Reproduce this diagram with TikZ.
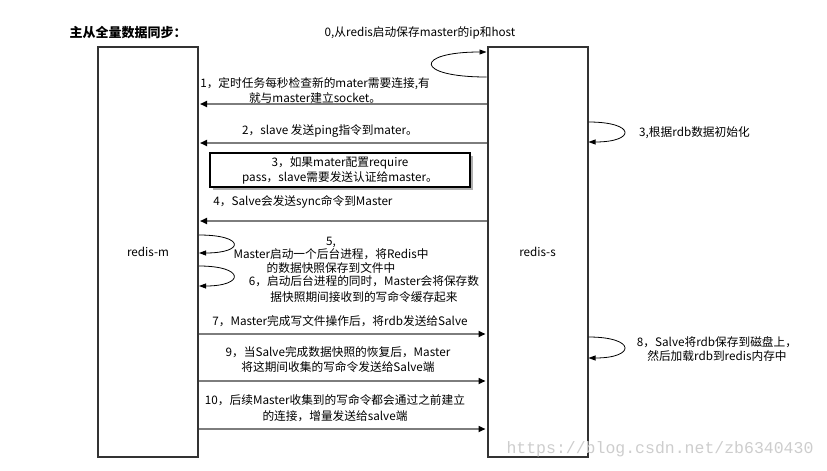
\documentclass[tikz,border=0pt]{standalone}
\usepackage{fontspec}
\setmainfont{Noto Sans CJK SC}
\newfontfamily\wmfont{Liberation Mono}
\usepackage{xcolor}
\usetikzlibrary{arrows.meta,positioning,calc,shadows}
\definecolor{boxgray}{RGB}{51,51,51}
\definecolor{msggray}{RGB}{125,125,125}
\definecolor{shadowgray}{RGB}{175,175,175}
\definecolor{wmgray}{RGB}{205,205,205}

\begin{document}
\begin{tikzpicture}[x=1pt, y=-1pt,
  server/.style={draw=boxgray, line width=2pt, minimum width=100pt, minimum height=410pt, inner sep=0pt, font=\fontsize{11.7}{13}\selectfont},
  msg/.style={draw=msggray, line width=1.6pt, shorten >=1pt, -{Triangle[length=7pt,width=6pt,color=black]}},
  selfloop/.style={draw=black, line width=0.8pt, -{Triangle[length=7pt,width=5pt]}},
  lbl/.style={align=center, inner sep=0pt, font=\fontsize{11.7}{15}\selectfont},
]
  \useasboundingbox (0,0) rectangle (827,471);
  % Title
  \node[lbl, font=\fontsize{13}{15}\selectfont\bfseries] (title) at (128,33) {主从全量数据同步：};
  % The two servers
  \node[server] (m) at (148,252) {redis-m};
  \node[server] (s) at (537.5,252) {redis-s};
  % 0: slave keeps master ip and host
  \node[lbl] (l0) at (420,33) {0,从redis启动保存master的ip和host};
  \draw[selfloop] (s.west |- 0,77) .. controls (414,77) and (414,52) .. (s.west |- 0,52);
  % 1: connect
  \node[lbl] (l1) at (315,91) {1，定时任务每秒检查新的mater需要连接,有\\就与master建立socket。};
  \draw[msg] (s.west |- 0,104) -- (m.east |- 0,104);
  % 2: ping
  \node[lbl] (l2) at (330,131) {2，slave 发送ping指令到mater。};
  \draw[msg] (s.west |- 0,143) -- (m.east |- 0,143);
  % 3: init from rdb
  \draw[selfloop] (s.east |- 0,122) .. controls (636,122) and (636,142) .. (s.east |- 0,142);
  \node[lbl, anchor=west] (l3s) at (639,133) {3,根据rdb数据初始化};
  % 3: auth box
  \node[lbl, draw=black, line width=2pt, fill=white, minimum width=260pt, minimum height=34pt,
    drop shadow={shadow xshift=3pt, shadow yshift=-3pt, fill=shadowgray, opacity=1}]
    (auth) at (340,170) {3，如果mater配置require\\pass，slave需要发送认证给master。};
  % 4: sync
  \node[lbl] (l4) at (303,202) {4，Salve会发送sync命令到Master};
  \draw[msg] (s.west |- 0,221) -- (m.east |- 0,221);
  % 5 and 6: master side
  \draw[selfloop] (m.east |- 0,235) .. controls (245,235) and (245,253) .. (m.east |- 0,253);
  \node[lbl, font=\fontsize{11.7}{13.5}\selectfont] (l5) at (331,255) {5,\\Master启动一个后台进程，将Redis中\\的数据快照保存到文件中};
  \draw[selfloop] (m.east |- 0,266) .. controls (245,266) and (245,286) .. (m.east |- 0,286);
  \node[lbl, font=\fontsize{11.7}{16}\selectfont] (l6) at (364,289) {6，启动后台进程的同时，Master会将保存数\\据快照期间接收到的写命令缓存起来};
  % 7: send rdb
  \node[lbl] (l7) at (340,321) {7，Master完成写文件操作后，将rdb发送给Salve};
  \draw[msg] (m.east |- 0,334) -- (s.west |- 0,334);
  % 8: slave loads rdb
  \draw[selfloop] (s.east |- 0,337) .. controls (636,337) and (636,358) .. (s.east |- 0,358);
  \node[lbl, font=\fontsize{11.7}{14}\selectfont] (l8) at (717,349) {8，Salve将rdb保存到磁盘上，\\然后加载rdb到redis内存中};
  % 9: buffered writes
  \node[lbl] (l9) at (338,360) {9，当Salve完成数据快照的恢复后，Master\\将这期间收集的写命令发送给Salve端};
  \draw[msg] (m.east |- 0,381) -- (s.west |- 0,381);
  % 10: incremental
  \node[lbl, font=\fontsize{11.7}{16}\selectfont] (l10) at (335,408) {10，后续Master收集到的写命令都会通过之前建立\\的连接，增量发送给salve端};
  \draw[msg] (m.east |- 0,429) -- (s.west |- 0,429);
  % watermark
  \node[inner sep=0pt, text=wmgray, font=\wmfont\fontsize{16.5}{18}\selectfont] (wm) at (660,449) {https://blog.csdn.net/zb6340430};
\end{tikzpicture}
\end{document}
